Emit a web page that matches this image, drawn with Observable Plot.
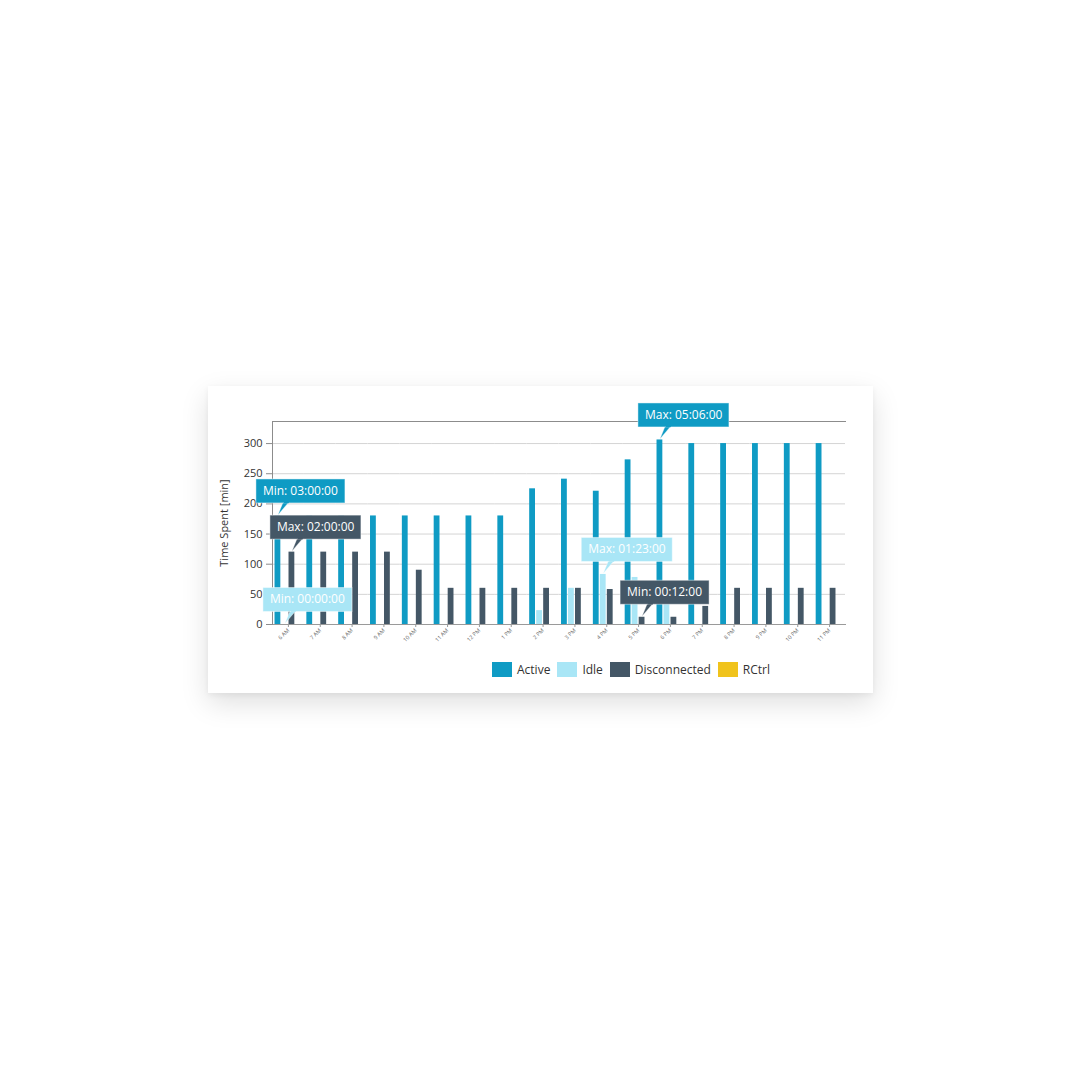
<!DOCTYPE html>
<html>
<head>
<meta charset="utf-8">
<script src="https://cdn.jsdelivr.net/npm/d3@7"></script>
<script src="https://cdn.jsdelivr.net/npm/@observablehq/plot@0.6"></script>
<style>
  html, body { margin: 0; padding: 0; background: #ffffff; }
  body { width: 1081px; height: 1080px; position: relative; font-family: "Open Sans", sans-serif; }
  #card { position: absolute; left: 208px; top: 386px; width: 665px; height: 307px; background: #ffffff;
          box-shadow: 0 10px 26px rgba(0,0,0,0.13), 0 2px 6px rgba(0,0,0,0.05); }
  #card svg { display: block; }
  #legend { display: flex; align-items: center; padding-left: 284px; margin-top: 10px; font-size: 12px; color: #333; }
  .item { display: flex; align-items: center; margin-right: 7px; }
  .sw { width: 20px; height: 15px; margin-right: 5px; }
</style>
</head>
<body>
<div id="card"></div>
<script>
// ---- data ----
const hours = ["6 AM","7 AM","8 AM","9 AM","10 AM","11 AM","12 PM","1 PM","2 PM","3 PM","4 PM","5 PM","6 PM","7 PM","8 PM","9 PM","10 PM","11 PM"];
const series = ["Active","Idle","Disconnected","RCtrl"];
const colors = ["#0f9bc4","#a9e6f6","#445766","#f0c31c"];
const active       = [180,180,180,180,180,180,180,180,225,241,221,273,306,300,300,300,300,300];
const idle         = [0,0,0,0,0,0,0,0,23,60,83,78,50,0,0,0,0,0];
const disconnected = [120,120,120,120,90,60,60,60,60,60,58,12,12,30,60,60,60,60];
const rctrl        = [0,0,0,0,0,0,0,0,0,0,0,0,0,0,0,0,0,0];
const yTicks = [0,50,100,150,200,250,300];
const yMax = 336.6;
const yTitle = "Time Spent [min]";

const tipHours  = ["6 AM","6 AM","6 AM","4 PM","5 PM","6 PM"];
const tipSeries = ["Active","Disconnected","Idle","Idle","Disconnected","Active"];
const tipLabels = ["Min: 03:00:00","Max: 02:00:00","Min: 00:00:00","Max: 01:23:00","Min: 00:12:00","Max: 05:06:00"];

// ---- tables ----
const bySeries = {Active: active, Idle: idle, Disconnected: disconnected, RCtrl: rctrl};
const rows = hours.flatMap((h, i) => series.map((s) => ({hour: h, series: s, value: bySeries[s][i]})));
const tips = tipHours.map((h, k) => ({
  hour: h, series: tipSeries[k], label: tipLabels[k],
  value: bySeries[tipSeries[k]][hours.indexOf(h)],
  fill: colors[series.indexOf(tipSeries[k])]
}));

const measure = document.createElement("canvas").getContext("2d");
measure.font = "12px 'Open Sans'";

function tipRender(index, scales, values) {
  const g = d3.create("svg:g").attr("text-anchor", "start");
  const half = scales.x && scales.x.bandwidth ? scales.x.bandwidth() / 2 : 0;
  for (const i of index) {
    const d = tips[i];
    const px = values.x[i] + half, py = values.y[i];
    const w = Math.round(measure.measureText(d.label).width) + 14;
    const h = 24;
    const bx = px - 22, bb = py - 13, by = bb - h;
    g.append("path")
      .attr("d", `M${px + 6},${bb - 1}L${px + 0.5},${py - 0.5}L${px + 12},${bb - 1}Z`)
      .attr("fill", d.fill).attr("stroke", "rgba(255,255,255,0.45)").attr("stroke-width", 0.8);
    g.append("rect")
      .attr("x", bx + 0.5).attr("y", by + 0.5).attr("width", w).attr("height", h)
      .attr("fill", d.fill).attr("stroke", "rgba(255,255,255,0.45)").attr("stroke-width", 1);
    g.append("path")
      .attr("d", `M${px + 6.6},${bb}L${px + 11.4},${bb}`)
      .attr("stroke", d.fill).attr("stroke-width", 1.5);
    g.append("text")
      .attr("x", bx + 7.5).attr("y", by + h / 2 + 1)
      .attr("text-anchor", "start")
      .attr("dominant-baseline", "middle")
      .attr("fill", "#ffffff").attr("font-size", 12).attr("font-family", "Open Sans, sans-serif")
      .text(d.label);
  }
  return g.node();
}

const chart = Plot.plot({
  width: 665,
  height: 265,
  marginTop: 35,
  marginLeft: 64,
  marginRight: 28,
  marginBottom: 27,
  style: {fontFamily: "Open Sans, sans-serif", fontSize: "11px", color: "#333", background: "transparent", overflow: "visible"},
  fx: {domain: hours, padding: 0, round: false, label: null},
  x: {domain: series, paddingInner: 0.17, paddingOuter: 0.36, round: false, axis: null},
  y: {domain: [0, yMax], label: null},
  color: {domain: series, range: colors},
  marks: [
    Plot.gridY(yTicks, {stroke: "#d4d4d4", strokeOpacity: 1}),
    Plot.frame({anchor: "top", facet: "super", stroke: "#8c8c8c"}),
    Plot.frame({anchor: "bottom", facet: "super", stroke: "#9a9a9a"}),
    Plot.frame({anchor: "left", facet: "super", stroke: "#8c8c8c"}),
    Plot.axisY(yTicks, {tickSize: 6, tickPadding: 4, stroke: "#8c8c8c", fill: "#333", fontSize: 11,
      label: yTitle, labelAnchor: "center", labelArrow: "none", labelOffset: 52}),
    Plot.axisFx({anchor: "bottom", tickRotate: -45, fontSize: 5.5, tickSize: 3, tickPadding: 2,
      label: null, fill: "#666", stroke: "#999"}),
    Plot.barY(rows, {fx: "hour", x: "series", y: "value", fill: "series"}),
    Plot.text(tips, {fx: "hour", x: "series", y: "value", text: "label", render: tipRender})
  ]
});

const card = document.getElementById("card");
card.appendChild(chart);

const legend = document.createElement("div");
legend.id = "legend";
series.forEach((s, k) => {
  const item = document.createElement("div");
  item.className = "item";
  const sw = document.createElement("div");
  sw.className = "sw";
  sw.style.background = colors[k];
  const t = document.createElement("span");
  t.textContent = s;
  item.appendChild(sw);
  item.appendChild(t);
  legend.appendChild(item);
});
card.appendChild(legend);
</script>
</body>
</html>
